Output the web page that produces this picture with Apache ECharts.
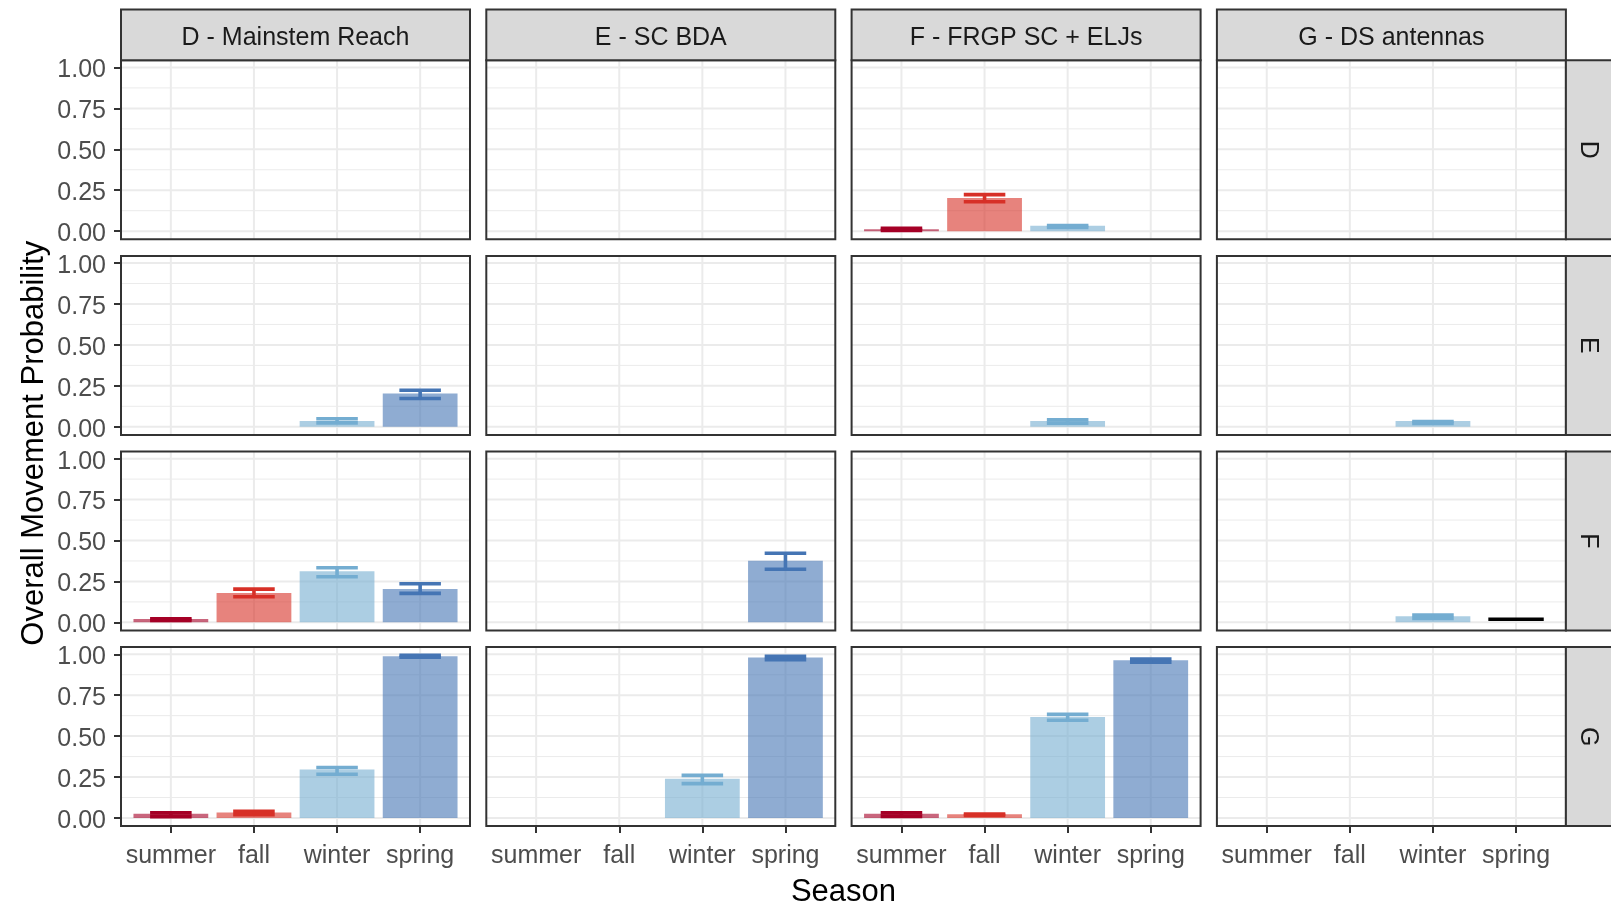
<!DOCTYPE html>
<html>
<head>
<meta charset="utf-8">
<title>Overall Movement Probability by Season</title>
<script src="https://cdn.jsdelivr.net/npm/echarts@6/dist/echarts.min.js"></script>
<style>
  html, body { margin: 0; padding: 0; background: #ffffff; }
  #chart { width: 1611px; height: 904px; }
</style>
</head>
<body>
<div id="chart"></div>
<script>
// Seasons along the x axis, origin reaches across the top, destinations down the side
const seasons = ['summer', 'fall', 'winter', 'spring'];
const originLabels = ['D - Mainstem Reach', 'E - SC BDA', 'F - FRGP SC + ELJs', 'G - DS antennas'];
const destLabels = ['D', 'E', 'F', 'G'];
const seasonColors = ['#a50026', '#d73027', '#74add1', '#4575b4'];
const yTicks = [0, 0.25, 0.5, 0.75, 1];
const yMinorTicks = [0.125, 0.375, 0.625, 0.875];

// Estimates per destination row: one inner array per origin column, one value per season
const estD = [
  [null, null, null, null],
  [null, null, null, null],
  [0.012, 0.202, 0.033, null],
  [null, null, null, null]
];
const lowD = [
  [null, null, null, null],
  [null, null, null, null],
  [0.005, 0.180, 0.022, null],
  [null, null, null, null]
];
const highD = [
  [null, null, null, null],
  [null, null, null, null],
  [0.018, 0.223, 0.035, null],
  [null, null, null, null]
];

const estE = [
  [null, null, 0.035, 0.203],
  [null, null, null, null],
  [null, null, 0.035, null],
  [null, null, 0.035, null]
];
const lowE = [
  [null, null, 0.024, 0.173],
  [null, null, null, null],
  [null, null, 0.022, null],
  [null, null, 0.021, null]
];
const highE = [
  [null, null, 0.049, 0.223],
  [null, null, null, null],
  [null, null, 0.043, null],
  [null, null, 0.032, null]
];

const estF = [
  [0.020, 0.180, 0.312, 0.204],
  [null, null, null, 0.377],
  [null, null, null, null],
  [null, null, 0.038, null]
];
const lowF = [
  [0.011, 0.156, 0.279, 0.177],
  [null, null, null, 0.324],
  [null, null, null, null],
  [null, null, 0.024, null]
];
const highF = [
  [0.022, 0.203, 0.334, 0.236],
  [null, null, null, 0.422],
  [null, null, null, null],
  [null, null, 0.044, null]
];

const estG = [
  [0.025, 0.033, 0.296, 0.988],
  [null, null, 0.240, 0.980],
  [0.025, 0.022, 0.617, 0.963],
  [null, null, null, null]
];
const lowG = [
  [0.008, 0.020, 0.267, 0.982],
  [null, null, 0.210, 0.967],
  [0.010, 0.016, 0.597, 0.951],
  [null, null, null, null]
];
const highG = [
  [0.031, 0.041, 0.308, 0.994],
  [null, null, 0.260, 0.987],
  [0.031, 0.024, 0.633, 0.970],
  [null, null, null, null]
];

// Spring estimate with no season fill (destination F, origin G)
const unfilledF_G = [null, null, null, 0.019];

const estRows = [estD, estE, estF, estG];
const lowRows = [lowD, lowE, lowF, lowG];
const highRows = [highD, highE, highF, highG];

// ---- layout ----
const FONT = '"Liberation Sans", Arial, sans-serif';
const PANEL_LEFT0 = 121, PANEL_STEP_X = 365.3, PANEL_W = 349;
const PANEL_TOP0 = 60.3, PANEL_STEP_Y = 195.6, PANEL_H = 179;
const STRIP_TOP = 9.5, STRIP_SIZE = 50.8;
const BAR_W = 0.9, ERR_W = 0.5, UNFILLED_W = 0.667;
const TEXT_NUDGE = 3; // centres glyphs rather than the em box

// y limits: data range from zero to the highest interval bound, padded 5% each side
let yTop = 0;
highRows.forEach(r => r.forEach(c => c.forEach(v => { if (v != null && v > yTop) yTop = v; })));
const Y_MIN = -0.05 * yTop, Y_MAX = yTop * 1.05;
const X_MIN = 0.4, X_MAX = seasons.length + 0.6;

const grids = [], xAxes = [], yAxes = [], series = [], graphics = [];

for (let r = 0; r < 4; r++) {
  for (let c = 0; c < 4; c++) {
    const g = r * 4 + c;
    const left = PANEL_LEFT0 + c * PANEL_STEP_X;
    const top = PANEL_TOP0 + r * PANEL_STEP_Y;
    grids.push({ left: left, top: top, width: PANEL_W, height: PANEL_H, show: true, backgroundColor: '#ffffff', borderWidth: 0 });

    const bottomRow = r === 3, leftCol = c === 0;
    xAxes.push({
      type: 'value', gridIndex: g, min: X_MIN, max: X_MAX, position: 'bottom',
      axisLine: { show: false, onZero: false },
      splitLine: { show: false },
      axisTick: { show: bottomRow, length: 7, lineStyle: { color: '#333333', width: 2 }, customValues: seasons.map((s, i) => i + 1) },
      axisLabel: {
        show: bottomRow, margin: 18, color: '#4d4d4d', fontSize: 25, fontFamily: FONT,
        customValues: seasons.map((s, i) => i + 1),
        formatter: v => seasons[Math.round(v) - 1] || ''
      }
    });
    yAxes.push({
      type: 'value', gridIndex: g, min: Y_MIN, max: Y_MAX, position: 'left',
      axisLine: { show: false, onZero: false },
      splitLine: { show: false },
      axisTick: { show: leftCol, length: 7, lineStyle: { color: '#333333', width: 2 }, customValues: yTicks },
      axisLabel: {
        show: leftCol, margin: 15, color: '#4d4d4d', fontSize: 25, fontFamily: FONT,
        customValues: yTicks,
        formatter: v => '{n|' + v.toFixed(2) + '}',
        rich: {
          n: { color: '#4d4d4d', fontSize: 25, fontFamily: FONT, padding: [TEXT_NUDGE * 2, 0, 0, 0] }
        }
      }
    });

    // panel grid lines
    const gridData = [];
    yTicks.forEach(v => gridData.push([0, v]));
    yMinorTicks.forEach(v => gridData.push([1, v]));
    seasons.forEach((s, i) => gridData.push([2, i + 1]));
    series.push({
      type: 'custom', xAxisIndex: g, yAxisIndex: g, silent: true, z: 1, animation: false,
      data: gridData,
      renderItem: function (params, api) {
        const cs = params.coordSys;
        const kind = api.value(0), v = api.value(1);
        if (kind === 2) {
          const x = api.coord([v, 0])[0];
          return { type: 'line', shape: { x1: x, y1: cs.y, x2: x, y2: cs.y + cs.height }, style: { stroke: '#ebebeb', lineWidth: 2 } };
        }
        const y = api.coord([1, v])[1];
        return { type: 'line', shape: { x1: cs.x, y1: y, x2: cs.x + cs.width, y2: y }, style: { stroke: '#ebebeb', lineWidth: kind === 0 ? 2 : 1 } };
      }
    });

    // bars and intervals
    const est = estRows[r][c], lo = lowRows[r][c], hi = highRows[r][c];
    const barData = [], errData = [];
    seasons.forEach((s, i) => {
      if (est[i] != null) barData.push([i + 1, est[i], i]);
      if (lo[i] != null && hi[i] != null) errData.push([i + 1, lo[i], hi[i], i]);
    });
    series.push({
      type: 'custom', xAxisIndex: g, yAxisIndex: g, silent: true, z: 2, animation: false,
      data: barData,
      renderItem: function (params, api) {
        const x = api.value(0), v = api.value(1), s = api.value(2);
        const p0 = api.coord([x - BAR_W / 2, 0]);
        const p1 = api.coord([x + BAR_W / 2, v]);
        return {
          type: 'rect',
          shape: { x: p0[0], y: p1[1], width: p1[0] - p0[0], height: p0[1] - p1[1] },
          style: { fill: seasonColors[s], opacity: 0.6 }
        };
      }
    });
    series.push({
      type: 'custom', xAxisIndex: g, yAxisIndex: g, silent: true, z: 3, animation: false,
      data: errData,
      renderItem: function (params, api) {
        const x = api.value(0), lo = api.value(1), hi = api.value(2), s = api.value(3);
        const a = api.coord([x - ERR_W / 2, lo]);
        const b = api.coord([x + ERR_W / 2, hi]);
        const mid = api.coord([x, lo])[0];
        const st = { stroke: seasonColors[s], lineWidth: 3.6 };
        return {
          type: 'group',
          children: [
            { type: 'line', shape: { x1: a[0], y1: a[1], x2: b[0], y2: a[1] }, style: st },
            { type: 'line', shape: { x1: a[0], y1: b[1], x2: b[0], y2: b[1] }, style: st },
            { type: 'line', shape: { x1: mid, y1: a[1], x2: mid, y2: b[1] }, style: st }
          ]
        };
      }
    });

    if (r === 2 && c === 3) {
      const segData = [];
      unfilledF_G.forEach((v, i) => { if (v != null) segData.push([i + 1, v]); });
      series.push({
        type: 'custom', xAxisIndex: g, yAxisIndex: g, silent: true, z: 3, animation: false,
        data: segData,
        renderItem: function (params, api) {
          const x = api.value(0), v = api.value(1);
          const a = api.coord([x - UNFILLED_W / 2, v]);
          const b = api.coord([x + UNFILLED_W / 2, v]);
          return { type: 'line', shape: { x1: a[0], y1: a[1], x2: b[0], y2: b[1] }, style: { stroke: '#000000', lineWidth: 3.6 } };
        }
      });
    }

    // panel border
    graphics.push({
      type: 'rect', z: 100, silent: true,
      shape: { x: left, y: top, width: PANEL_W, height: PANEL_H },
      style: { fill: null, stroke: '#333333', lineWidth: 2 }
    });
  }
}

// column strips
originLabels.forEach((lab, c) => {
  const left = PANEL_LEFT0 + c * PANEL_STEP_X;
  graphics.push({
    type: 'rect', z: 100, silent: true,
    shape: { x: left, y: STRIP_TOP, width: PANEL_W, height: PANEL_TOP0 - STRIP_TOP },
    style: { fill: '#d9d9d9', stroke: '#333333', lineWidth: 2 }
  });
  graphics.push({
    type: 'text', z: 101, silent: true,
    x: left + PANEL_W / 2, y: (STRIP_TOP + PANEL_TOP0) / 2 + TEXT_NUDGE,
    style: { text: lab, align: 'center', verticalAlign: 'middle', font: '25px ' + FONT, fill: '#1a1a1a' }
  });
});

// row strips
const rightEdge = PANEL_LEFT0 + 3 * PANEL_STEP_X + PANEL_W;
destLabels.forEach((lab, r) => {
  const top = PANEL_TOP0 + r * PANEL_STEP_Y;
  graphics.push({
    type: 'rect', z: 100, silent: true,
    shape: { x: rightEdge, y: top, width: STRIP_SIZE, height: PANEL_H },
    style: { fill: '#d9d9d9', stroke: '#333333', lineWidth: 2 }
  });
  graphics.push({
    type: 'text', z: 101, silent: true,
    x: rightEdge + STRIP_SIZE / 2 - TEXT_NUDGE, y: top + PANEL_H / 2, rotation: -Math.PI / 2,
    style: { text: lab, align: 'center', verticalAlign: 'middle', font: '25px ' + FONT, fill: '#1a1a1a' }
  });
});

// axis titles
const panelsRight = rightEdge;
const panelsBottom = PANEL_TOP0 + 3 * PANEL_STEP_Y + PANEL_H;
graphics.push({
  type: 'text', z: 101, silent: true,
  x: (PANEL_LEFT0 + panelsRight) / 2, y: 889 + TEXT_NUDGE,
  style: { text: 'Season', align: 'center', verticalAlign: 'middle', font: '31px ' + FONT, fill: '#000000' }
});
graphics.push({
  type: 'text', z: 101, silent: true,
  x: 31 + TEXT_NUDGE, y: (PANEL_TOP0 + panelsBottom) / 2, rotation: Math.PI / 2,
  style: { text: 'Overall Movement Probability', align: 'center', verticalAlign: 'middle', font: '31px ' + FONT, fill: '#000000' }
});

const chart = echarts.init(document.getElementById('chart'), null, { renderer: 'canvas' });
chart.setOption({
  backgroundColor: '#ffffff',
  animation: false,
  grid: grids,
  xAxis: xAxes,
  yAxis: yAxes,
  series: series,
  graphic: graphics
});
</script>
</body>
</html>
